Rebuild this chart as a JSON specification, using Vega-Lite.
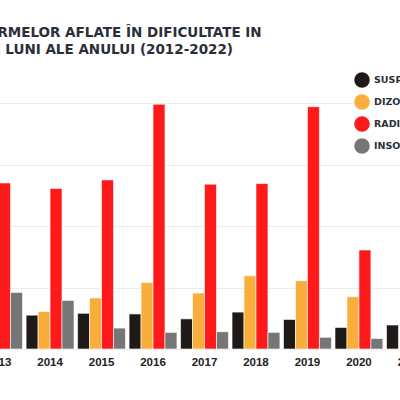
{
  "$schema": "https://vega.github.io/schema/vega-lite/v6.json",
  "description": "Firme aflate in dificultate, 2012-2022, cropped view as in the reference.",
  "autosize": {"type": "none"},
  "width": 573,
  "height": 246,
  "padding": {"left": -82, "top": 103, "right": -91, "bottom": 51},
  "background": "white",
  "title": {
    "text": ["NUMĂRUL FIRMELOR AFLATE ÎN DIFICULTATE IN", "ANUMITE LUNI ALE ANULUI (2012-2022)"],
    "anchor": "start",
    "frame": "group",
    "align": "center",
    "dx": 164,
    "font": "DejaVu Sans",
    "fontSize": 13.5,
    "fontWeight": "bold",
    "color": "#2b2f3a",
    "lineHeight": 17,
    "offset": 16
  },
  "config": {"view": {"stroke": null}},
  "data": {
    "values": [
      {"an": "2013", "stare": "RADIATE", "firme": 2700},
      {"an": "2013", "stare": "INSOLVENȚE", "firme": 920},
      {"an": "2014", "stare": "SUSPENDATE", "firme": 550},
      {"an": "2014", "stare": "DIZOLVATE", "firme": 610},
      {"an": "2014", "stare": "RADIATE", "firme": 2610},
      {"an": "2014", "stare": "INSOLVENȚE", "firme": 790},
      {"an": "2015", "stare": "SUSPENDATE", "firme": 580},
      {"an": "2015", "stare": "DIZOLVATE", "firme": 830},
      {"an": "2015", "stare": "RADIATE", "firme": 2750},
      {"an": "2015", "stare": "INSOLVENȚE", "firme": 340},
      {"an": "2016", "stare": "SUSPENDATE", "firme": 570},
      {"an": "2016", "stare": "DIZOLVATE", "firme": 1080},
      {"an": "2016", "stare": "RADIATE", "firme": 3980},
      {"an": "2016", "stare": "INSOLVENȚE", "firme": 270},
      {"an": "2017", "stare": "SUSPENDATE", "firme": 490},
      {"an": "2017", "stare": "DIZOLVATE", "firme": 910},
      {"an": "2017", "stare": "RADIATE", "firme": 2680},
      {"an": "2017", "stare": "INSOLVENȚE", "firme": 280},
      {"an": "2018", "stare": "SUSPENDATE", "firme": 600},
      {"an": "2018", "stare": "DIZOLVATE", "firme": 1190},
      {"an": "2018", "stare": "RADIATE", "firme": 2690},
      {"an": "2018", "stare": "INSOLVENȚE", "firme": 270},
      {"an": "2019", "stare": "SUSPENDATE", "firme": 480},
      {"an": "2019", "stare": "DIZOLVATE", "firme": 1110},
      {"an": "2019", "stare": "RADIATE", "firme": 3940},
      {"an": "2019", "stare": "INSOLVENȚE", "firme": 190},
      {"an": "2020", "stare": "SUSPENDATE", "firme": 350},
      {"an": "2020", "stare": "DIZOLVATE", "firme": 850},
      {"an": "2020", "stare": "RADIATE", "firme": 1610},
      {"an": "2020", "stare": "INSOLVENȚE", "firme": 170},
      {"an": "2021", "stare": "SUSPENDATE", "firme": 390}
    ]
  },
  "mark": {"type": "bar", "stroke": "white", "strokeWidth": 0.6},
  "encoding": {
    "x": {
      "field": "an",
      "type": "nominal",
      "scale": {
        "domain": ["2012", "2013", "2014", "2015", "2016", "2017", "2018", "2019", "2020", "2021", "2022"],
        "paddingInner": 0.07,
        "paddingOuter": 0.1
      },
      "axis": {
        "title": null,
        "labelAngle": 0,
        "domain": false,
        "ticks": false,
        "labelPadding": 7,
        "labelFont": "Liberation Sans",
        "labelFontSize": 11.5,
        "labelFontWeight": "bold",
        "labelColor": "#222222"
      }
    },
    "xOffset": {
      "field": "stare",
      "type": "nominal",
      "scale": {"domain": ["SUSPENDATE", "DIZOLVATE", "RADIATE", "INSOLVENȚE"]}
    },
    "y": {
      "field": "firme",
      "type": "quantitative",
      "scale": {"domain": [0, 4000], "nice": false},
      "axis": {
        "title": null,
        "values": [0, 1000, 2000, 3000, 4000],
        "domain": false,
        "ticks": false,
        "labels": false,
        "gridColor": "#ececec",
        "gridWidth": 1
      }
    },
    "color": {
      "field": "stare",
      "type": "nominal",
      "scale": {
        "domain": ["SUSPENDATE", "DIZOLVATE", "RADIATE", "INSOLVENȚE"],
        "range": ["#1f1a17", "#f9ad3a", "#fe1a1a", "#767676"]
      },
      "legend": {
        "title": null,
        "orient": "none",
        "legendX": 436,
        "legendY": -31,
        "padding": 0,
        "fillColor": "white",
        "symbolType": "circle",
        "symbolSize": 240,
        "symbolStrokeWidth": 0,
        "rowPadding": 6,
        "labelOffset": 4,
        "labelFont": "DejaVu Sans",
        "labelFontSize": 9.5,
        "labelFontWeight": "bold",
        "labelColor": "#2b2f3a"
      }
    }
  }
}
